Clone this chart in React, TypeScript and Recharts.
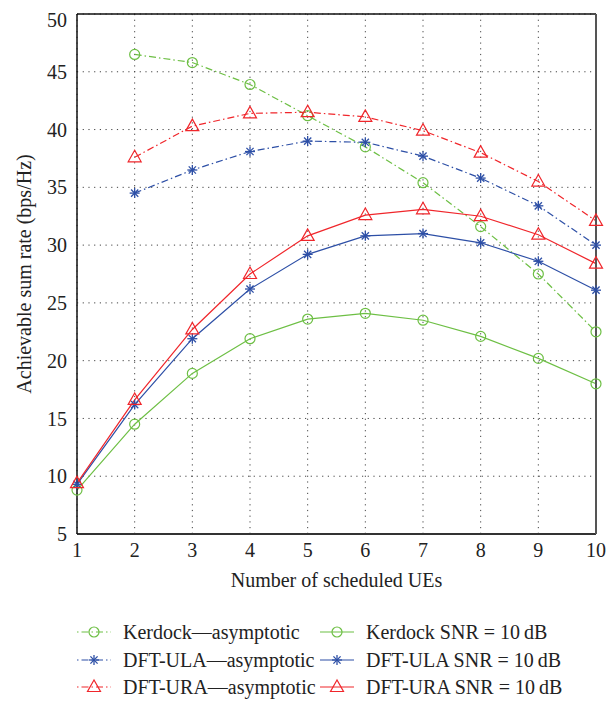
import { LineChart, Line, XAxis, YAxis, CartesianGrid } from "recharts";

const ues = [1, 2, 3, 4, 5, 6, 7, 8, 9, 10];
const kerdockAsym = [null, 46.5, 45.8, 43.9, 41.2, 38.5, 35.4, 31.6, 27.5, 22.5];
const ulaAsym = [null, 34.5, 36.5, 38.1, 39.0, 38.9, 37.7, 35.8, 33.4, 30.0];
const uraAsym = [null, 37.6, 40.3, 41.4, 41.5, 41.1, 39.9, 38.0, 35.5, 32.1];
const kerdockSnr = [8.8, 14.5, 18.9, 21.9, 23.6, 24.1, 23.5, 22.1, 20.2, 18.0];
const ulaSnr = [9.3, 16.2, 21.9, 26.2, 29.2, 30.8, 31.0, 30.2, 28.6, 26.1];
const uraSnr = [9.4, 16.6, 22.7, 27.5, 30.8, 32.6, 33.1, 32.5, 30.9, 28.4];
const yTicks = [5, 10, 15, 20, 25, 30, 35, 40, 45, 50];

const GREEN = "#6dbf44";
const BLUE = "#2d4fa6";
const RED = "#f0262b";
const FONT = "'Liberation Serif', 'DejaVu Serif', serif";
const DASHDOT = "7 3 1.5 3";

const data = ues.map((ue, i) => ({
  ue,
  kAsym: kerdockAsym[i],
  uAsym: ulaAsym[i],
  rAsym: uraAsym[i],
  kSnr: kerdockSnr[i],
  uSnr: ulaSnr[i],
  rSnr: uraSnr[i],
}));

function CircleMark({ cx, cy, color }) {
  if (cx == null || cy == null) return null;
  return <circle cx={cx} cy={cy} r={5} fill="none" stroke={color} strokeWidth={1.2} />;
}

function StarMark({ cx, cy, color }) {
  if (cx == null || cy == null) return null;
  const r = 5;
  const d = r * 0.72;
  return (
    <g stroke={color} strokeWidth={1.3}>
      <line x1={cx - r} y1={cy} x2={cx + r} y2={cy} />
      <line x1={cx} y1={cy - r} x2={cx} y2={cy + r} />
      <line x1={cx - d} y1={cy - d} x2={cx + d} y2={cy + d} />
      <line x1={cx - d} y1={cy + d} x2={cx + d} y2={cy - d} />
    </g>
  );
}

function TriMark({ cx, cy, color }) {
  if (cx == null || cy == null) return null;
  return (
    <polygon
      points={`${cx},${cy - 7} ${cx - 6.5},${cy + 4.5} ${cx + 6.5},${cy + 4.5}`}
      fill="none"
      stroke={color}
      strokeWidth={1.2}
    />
  );
}

const series = [
  { key: "kAsym", name: "Kerdock\u2014asymptotic", color: GREEN, dash: DASHDOT, Mark: CircleMark },
  { key: "uAsym", name: "DFT-ULA\u2014asymptotic", color: BLUE, dash: DASHDOT, Mark: StarMark },
  { key: "rAsym", name: "DFT-URA\u2014asymptotic", color: RED, dash: DASHDOT, Mark: TriMark },
  { key: "kSnr", name: "Kerdock SNR = 10\u2009dB", color: GREEN, dash: undefined, Mark: CircleMark },
  { key: "uSnr", name: "DFT-ULA SNR = 10\u2009dB", color: BLUE, dash: undefined, Mark: StarMark },
  { key: "rSnr", name: "DFT-URA SNR = 10\u2009dB", color: RED, dash: undefined, Mark: TriMark },
];

function LegendItem({ s, left, top }) {
  const Mark = s.Mark;
  return (
    <div style={{ position: "absolute", left, top, display: "flex", alignItems: "center", height: 24 }}>
      <svg width={34} height={20} style={{ marginRight: 12 }}>
        <line x1={0} y1={10} x2={34} y2={10} stroke={s.color} strokeWidth={1.2} strokeDasharray={s.dash ? "1.5 3 7 3" : undefined} />
        <Mark cx={17} cy={10} color={s.color} />
      </svg>
      <span style={{ fontFamily: FONT, fontSize: 20, color: "#222", whiteSpace: "nowrap" }}>{s.name}</span>
    </div>
  );
}

export default function App() {
  return (
    <div style={{ position: "relative", width: 600, height: 693, background: "#fff" }}>
      <LineChart width={600} height={600} data={data} margin={{ top: 6, right: 12, left: 0, bottom: 0 }}>
        <CartesianGrid stroke="#444" strokeDasharray="1.2 4.5" />
        <XAxis
          dataKey="ue"
          type="number"
          domain={[1, 10]}
          ticks={ues}
          height={74}
          tickLine={false}
          axisLine={{ stroke: "#333", strokeWidth: 1.8 }}
          tickMargin={3}
          tick={{ fontFamily: FONT, fontSize: 20, fill: "#222" }}
          label={{ value: "Number of scheduled UEs", position: "insideBottom", offset: 21, style: { fontFamily: FONT, fontSize: 20, fill: "#222" } }}
        />
        <XAxis xAxisId="top" orientation="top" type="number" domain={[1, 10]} ticks={ues} mirror tick={false} tickSize={5} tickLine={{ stroke: "#111" }} axisLine={{ stroke: "#111", strokeWidth: 1.5 }} />
        <XAxis xAxisId="bin" orientation="bottom" type="number" domain={[1, 10]} ticks={ues} mirror tick={false} tickSize={5} tickLine={{ stroke: "#111" }} axisLine={false} />
        <YAxis
          domain={[5, 50]}
          ticks={yTicks}
          width={69}
          tickLine={false}
          axisLine={{ stroke: "#111", strokeWidth: 1.5 }}
          tickMargin={4}
          tick={{ fontFamily: FONT, fontSize: 20, fill: "#222" }}
          label={{ value: "Achievable sum rate (bps/Hz)", angle: -90, position: "insideLeft", offset: 16, style: { fontFamily: FONT, fontSize: 20, fill: "#222", textAnchor: "middle" } }}
        />
        <YAxis yAxisId="lin" orientation="left" domain={[5, 50]} ticks={yTicks} mirror tick={false} tickSize={5} tickLine={{ stroke: "#111" }} axisLine={false} />
        <YAxis yAxisId="right" orientation="right" domain={[5, 50]} ticks={yTicks} mirror tick={false} tickSize={5} tickLine={{ stroke: "#111" }} axisLine={{ stroke: "#555", strokeWidth: 2 }} />
        {series.map((s) => (
          <Line
            key={s.key}
            dataKey={s.key}
            name={s.name}
            stroke={s.color}
            strokeWidth={1.2}
            strokeDasharray={s.dash}
            type="linear"
            connectNulls={false}
            isAnimationActive={false}
            dot={(p) => <s.Mark key={`${s.key}-${p.index}`} cx={p.cx} cy={p.cy} color={s.color} />}
            activeDot={false}
          />
        ))}
      </LineChart>
      <LegendItem s={series[0]} left={69} top={612} />
      <LegendItem s={series[1]} left={69} top={640} />
      <LegendItem s={series[2]} left={69} top={667} />
      <LegendItem s={series[3]} left={312} top={612} />
      <LegendItem s={series[4]} left={312} top={640} />
      <LegendItem s={series[5]} left={312} top={667} />
    </div>
  );
}
